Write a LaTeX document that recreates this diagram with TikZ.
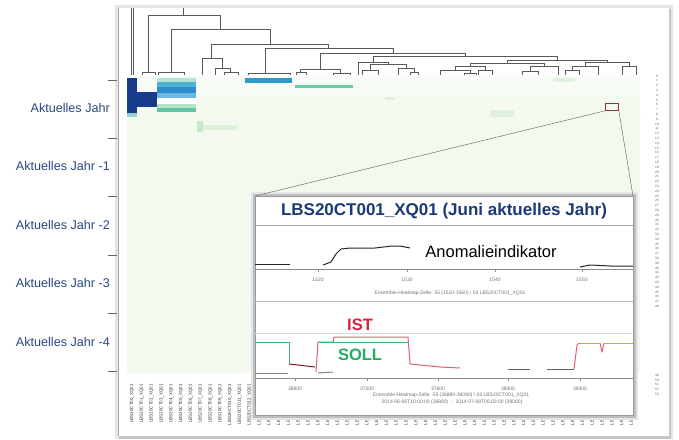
\documentclass[tikz,border=0pt]{standalone}
\usepackage{fontspec}
\setmainfont{Liberation Sans}
\usetikzlibrary{positioning}

\definecolor{jahrblue}{RGB}{40,72,128}
\definecolor{titleblue}{RGB}{26,58,118}
\definecolor{navy}{RGB}{22,60,138}
\definecolor{heatbg}{RGB}{243,249,238}
\definecolor{heattop}{RGB}{248,252,246}
\definecolor{istred}{RGB}{212,38,58}
\definecolor{istline}{RGB}{232,92,112}
\definecolor{sollgreen}{RGB}{38,172,100}
\definecolor{sollline}{RGB}{70,180,110}
\definecolor{mixline}{RGB}{170,184,70}
\definecolor{zoomred}{RGB}{160,44,52}
\definecolor{cellA}{RGB}{150,210,210}
\definecolor{cellB}{RGB}{181,227,216}
\definecolor{cellC}{RGB}{75,179,207}
\definecolor{cellD}{RGB}{47,140,207}
\definecolor{cellE}{RGB}{106,184,226}
\definecolor{cellF}{RGB}{182,228,200}
\definecolor{cellG}{RGB}{98,195,165}
\definecolor{cellH}{RGB}{46,154,200}
\definecolor{cellI}{RGB}{99,208,168}
\definecolor{cellJ}{RGB}{200,232,204}
\definecolor{cellK}{RGB}{221,240,218}
\definecolor{cellL}{RGB}{225,240,223}

\tikzset{
    dendro/.style={draw=black!65, line width=0.6pt},
    jahrlabel/.style={anchor=east, inner sep=0pt, text=jahrblue, font=\fontsize{12.6}{14}\selectfont},
    jahrtick/.style={draw=black!60, line width=0.8pt},
    tinytext/.style={inner sep=0pt, text=black!55, font=\fontsize{5}{5}\selectfont},
    collabel/.style={inner sep=0pt, text=black!80, font=\fontsize{4.5}{4.5}\selectfont, rotate=90, anchor=east},
    rowlabel/.style={inner sep=0pt, text=black!65, font=\fontsize{3.2}{3.2}\selectfont},
    plotaxis/.style={draw=black!45, line width=0.6pt},
    plotline/.style={line width=1pt, line join=round},
    bigword/.style={font=\bfseries\fontsize{16.5}{18}\selectfont},
}

\begin{document}
\begin{tikzpicture}[x=1pt, y=-1pt]
    \useasboundingbox (0,0) rectangle (679,439);
    \fill[white] (0,0) rectangle (679,439);

    % panel with shadow
    \fill[black!10] (115,5) rectangle (673,439);
    \fill[black!22] (119,9) rectangle (671,439);
    \fill[white] (118,8) rectangle (669,436);
    \draw[black!35] (118,8) -- (118,436);

    % heatmap cells
    \fill[heatbg] (127,76) rectangle (640,373);
    \shade[top color=heattop, bottom color=heatbg] (127,76) rectangle (640,120);
    \fill[navy] (127,78) rectangle (137,113);
    \fill[navy] (137,92) rectangle (157,107);
    \fill[cellA] (127,113) rectangle (137,117);
    \fill[cellB] (157,78) rectangle (196,82);
    \fill[cellC] (157,82) rectangle (196,87);
    \fill[cellD] (157,87) rectangle (196,93);
    \fill[cellE] (157,93) rectangle (196,98);
    \fill[white] (157,98) rectangle (196,104);
    \fill[cellF] (157,104) rectangle (196,108);
    \fill[cellG] (157,108) rectangle (196,112);
    \fill[cellH] (245,78) rectangle (292,83);
    \fill[cellI] (295,85) rectangle (353,88);
    \fill[cellJ] (197,121) rectangle (203,132);
    \fill[cellK] (203,125) rectangle (237,130);
    \fill[cellL] (385,97) rectangle (395,100);
    \fill[cellL] (490,110) rectangle (514,117);
    \fill[cellL] (553,78) rectangle (575,82);

    % dendrogram
    \draw[dendro] (131,8) -- (131,75);
    \draw[dendro] (133,8) -- (133,75);
    \draw[dendro] (183,8) -- (183,15);
    \draw[dendro] (148,72) -- (148,15) -- (220,15) -- (220,29);
    \draw[dendro] (171,72) -- (171,29) -- (270,29) -- (270,44);
    \draw[dendro] (142,75) -- (142,72) -- (155,72) -- (155,75);
    \draw[dendro] (158,75) -- (158,72) -- (184,72) -- (184,75);
    \draw[dendro] (211,58) -- (211,44) -- (328,44) -- (328,48);
    \draw[dendro] (202,75) -- (202,58) -- (222,58) -- (222,68);
    \draw[dendro] (215,75) -- (215,68) -- (230,68) -- (230,72);
    \draw[dendro] (224,75) -- (224,72) -- (238,72) -- (238,75);
    \draw[dendro] (265,73) -- (265,48) -- (393,48) -- (393,53);
    \draw[dendro] (248,75) -- (248,73) -- (290,73) -- (290,75);
    \draw[dendro] (320,69) -- (320,53) -- (465,53) -- (465,56);
    \draw[dendro] (300,72) -- (300,69) -- (340,69) -- (340,73);
    \draw[dendro] (296,75) -- (296,72) -- (306,72) -- (306,75);
    \draw[dendro] (333,75) -- (333,73) -- (350,73) -- (350,75);
    \draw[dendro] (373,62) -- (373,56) -- (557,56) -- (557,60);
    \draw[dendro] (358,75) -- (358,62) -- (388,62) -- (388,64);
    \draw[dendro] (370,70) -- (370,64) -- (406,64) -- (406,68);
    \draw[dendro] (362,75) -- (362,70) -- (378,70) -- (378,75);
    \draw[dendro] (398,75) -- (398,68) -- (414,68) -- (414,72);
    \draw[dendro] (410,75) -- (410,72) -- (418,72) -- (418,75);
    \draw[dendro] (507,63) -- (507,60) -- (607,60) -- (607,62);
    \draw[dendro] (470,66) -- (470,63) -- (544,63) -- (544,66);
    \draw[dendro] (455,70) -- (455,66) -- (485,66) -- (485,70);
    \draw[dendro] (440,75) -- (440,70) -- (470,70) -- (470,73);
    \draw[dendro] (464,75) -- (464,73) -- (476,73) -- (476,75);
    \draw[dendro] (478,75) -- (478,70) -- (492,70) -- (492,75);
    \draw[dendro] (530,71) -- (530,66) -- (558,66) -- (558,75);
    \draw[dendro] (522,75) -- (522,71) -- (538,71) -- (538,75);
    \draw[dendro] (585,66) -- (585,62) -- (629,62) -- (629,66);
    \draw[dendro] (572,70) -- (572,66) -- (598,66) -- (598,75);
    \draw[dendro] (565,75) -- (565,70) -- (579,70) -- (579,75);
    \draw[dendro] (622,75) -- (622,66) -- (636,66) -- (636,75);

    % year axis
    \foreach \y in {80,138,196,255,313,371}
        \draw[jahrtick] (108,\y) -- (117,\y);
    \node[jahrlabel] at (110,108) (jahr0) {Aktuelles Jahr};
    \node[jahrlabel] at (110,166) (jahr1) {Aktuelles Jahr -1};
    \node[jahrlabel] at (110,225) (jahr2) {Aktuelles Jahr -2};
    \node[jahrlabel] at (110,283) (jahr3) {Aktuelles Jahr -3};
    \node[jahrlabel] at (110,342) (jahr4) {Aktuelles Jahr -4};

    % row and column labels
    \foreach \i in {0,...,48}
        \node[rowlabel] at (657,{76+4.8*\i}) (row\i) {\i};
    \foreach \i in {49,...,53}
        \node[rowlabel] at (657,{140+4.8*\i}) (row\i) {\i};
    \foreach \i in {0,...,51}
        \node[collabel] at ({132+9.8*\i},384) (col\i) {LBS20CT0\i\_XQ01};

    % zoomed cell and inset
    \node[draw=zoomred, line width=0.8pt, minimum width=13pt, minimum height=7pt,
          inner sep=0pt, anchor=north west] at (605,103) (zoomcell) {};
    \fill[black!10] (251,192) rectangle (638,420);
    \fill[black!25] (253,194) rectangle (636,418);
    \node[draw=black!40, fill=white, minimum width=378pt, minimum height=219pt,
          inner sep=0pt, outer sep=0pt, anchor=north west] at (255,196) (inset) {};
    \draw[black!55, line width=0.5pt] (zoomcell.south west) -- (inset.north west);
    \draw[black!55, line width=0.5pt] (zoomcell.south east) -- (inset.north east);

    \node[text=titleblue, font=\bfseries\fontsize{17}{19}\selectfont] at (444,211) (title)
        {LBS20CT001\_XQ01 (Juni aktuelles Jahr)};
    \draw[black!35] (255,225) -- (633,225);
    \draw[black!25] (255,301) -- (633,301);

    % upper chart
    \draw[plotaxis] (255,269) -- (633,269);
    \foreach \x/\t in {318/1520, 407/1530, 495/1540, 582/1550} {
        \draw[plotaxis] (\x,269) -- (\x,272);
        \node[tinytext] at (\x,280) {\t};
    }
    \node[tinytext] at (450,293) (capA) {Ensemble-Heatmap-Zelle: 55 (1510-1560) / 03 LBS20CT001\_XQ01};
    \draw[plotline, black!85] (255,264) -- (290,264);
    \draw[plotline, black!85] (323,265) -- (331,262) -- (336,254) -- (341,249) -- (350,248)
        -- (375,248) -- (392,246) -- (400,246) -- (410,248);
    \draw[plotline, black!85] (580,267) -- (590,265) -- (610,266) -- (633,266);
    \node[font=\fontsize{16.5}{18}\selectfont] at (491,252) (anomaly) {Anomalieindikator};

    % lower chart
    \draw[black!15] (255,333) -- (633,333);
    \draw[plotaxis] (255,378) -- (633,378);
    \foreach \x/\t in {295/36800, 367/37200, 438/37600, 508/38000, 580/38400} {
        \draw[plotaxis] (\x,378) -- (\x,381);
        \node[tinytext] at (\x,389) {\t};
    }
    \node[tinytext] at (451,395) (capB) {Ensemble-Heatmap-Zelle: 55 (36880-39080) / 03 LBS20CT001\_XQ01};
    \node[tinytext] at (452,402) (capC) {2014-06-08T10:00:00 (36880) \ - \ 2014-07-08T06:00:00 (39080)};
    \draw[plotline, black!50] (255,373) -- (288,373);
    \draw[plotline, black!50] (318,373) -- (333,372);
    \draw[plotline, sollline] (255,342) -- (289,342) -- (289,364);
    \draw[plotline, istred!60!black] (289,364) -- (315,367);
    \draw[plotline, istline] (316,372) -- (318,342) -- (333,342) -- (334,337) -- (408,337)
        -- (410,364) -- (440,367) -- (460,368);
    \draw[plotline, sollline] (318,342) -- (408,342);
    \draw[plotline, black!60] (508,369) -- (530,369);
    \draw[plotline, black!60] (547,369) -- (574,369);
    \draw[plotline, istline] (574,369) -- (577,345) -- (579,343);
    \draw[plotline, mixline] (579,343) -- (600,343);
    \draw[plotline, istline] (600,343) -- (602,352) -- (604,343);
    \draw[plotline, mixline] (604,343) -- (633,343);
    \node[bigword, text=istred] at (360,325) (ist) {IST};
    \node[bigword, text=sollgreen] at (360,355) (soll) {SOLL};
\end{tikzpicture}
\end{document}
